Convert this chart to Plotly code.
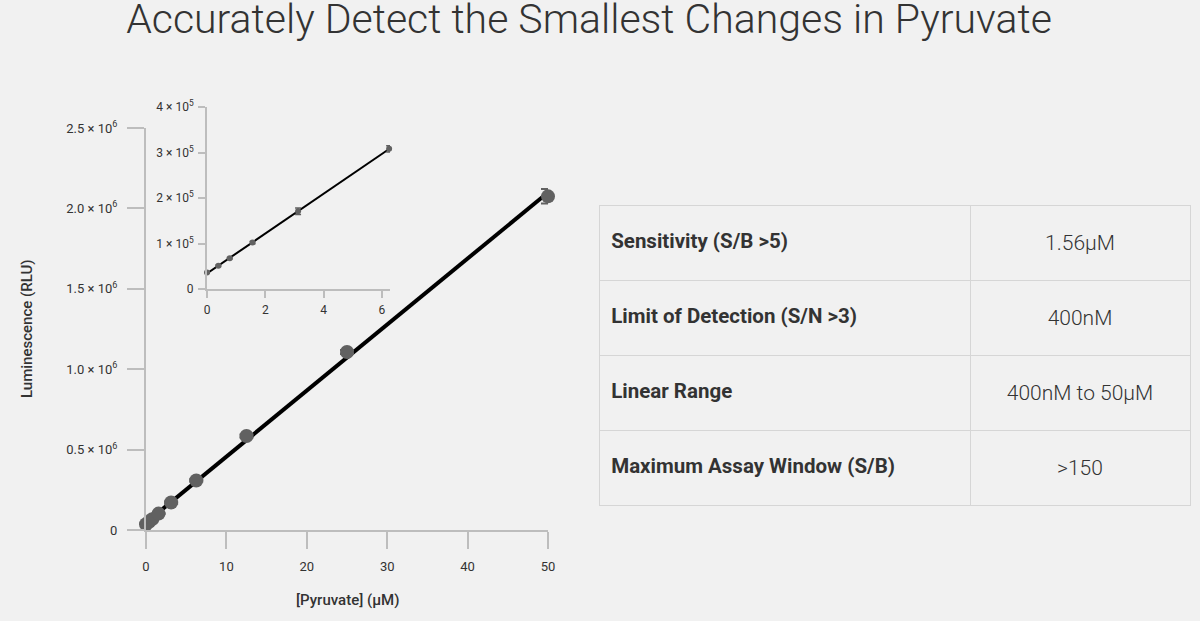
import numpy as np
import plotly.graph_objects as go

# ---- dados ----
conc_um = [0, 0.39, 0.78, 1.5625, 3.125, 6.25, 12.5, 25, 50]
lum_rlu = [36000, 51000, 67500, 102000, 171000, 308000, 585000, 1107000, 2075000]
lum_err = [1500, 1500, 1500, 2500, 7000, 7000, 9000, 12000, 45000]

inset_conc = [0, 0.39, 0.78, 1.5625, 3.125, 6.25]
inset_lum = [36000, 51000, 67500, 102000, 171000, 308000]
inset_err = [1500, 1500, 1500, 2500, 7000, 7000]

main_yticks = [0, 0.5e6, 1.0e6, 1.5e6, 2.0e6, 2.5e6]
main_ytext = ["0", "0.5 × 10<sup>6</sup>", "1.0 × 10<sup>6</sup>", "1.5 × 10<sup>6</sup>",
              "2.0 × 10<sup>6</sup>", "2.5 × 10<sup>6</sup>"]
main_xticks = [0, 10, 20, 30, 40, 50]

inset_yticks = [0, 1e5, 2e5, 3e5, 4e5]
inset_ytext = ["0", "1 × 10<sup>5</sup>", "2 × 10<sup>5</sup>", "3 × 10<sup>5</sup>", "4 × 10<sup>5</sup>"]
inset_xticks = [0, 2, 4, 6]

tabela_param = ["Sensitivity (S/B >5)", "Limit of Detection (S/N >3)",
                "Linear Range", "Maximum Assay Window (S/B)"]
tabela_valor = ["1.56µM", "400nM", "400nM to 50µM", ">150"]

BG = "#f1f1f1"
CINZA = "#616161"
EIXO = "#bdbdbd"
TXT = "#333333"
FONTE = "Roboto"

# ajuste linear (regressão)
a, b = np.polyfit(conc_um, lum_rlu, 1)
xf = [0, 50]
ai, bi = np.polyfit(inset_conc, inset_lum, 1)
xfi = [0, 6.25]

fig = go.Figure()

# -------- gráfico principal --------
fig.add_trace(go.Scatter(
    x=xf, y=[a * v + b for v in xf], mode="lines",
    line=dict(color="black", width=4), hoverinfo="skip", showlegend=False,
    xaxis="x", yaxis="y", cliponaxis=False,
))
fig.add_trace(go.Scatter(
    x=conc_um, y=lum_rlu, mode="markers",
    marker=dict(color=CINZA, size=14),
    error_y=dict(type="data", array=lum_err, color=CINZA, thickness=2, width=7),
    showlegend=False, xaxis="x", yaxis="y", cliponaxis=False,
))

# -------- inset --------
fig.add_trace(go.Scatter(
    x=xfi, y=[ai * v + bi for v in xfi], mode="lines",
    line=dict(color="black", width=2), hoverinfo="skip", showlegend=False,
    xaxis="x2", yaxis="y2", cliponaxis=False,
))
fig.add_trace(go.Scatter(
    x=inset_conc, y=inset_lum, mode="markers",
    marker=dict(color=CINZA, size=6),
    error_y=dict(type="data", array=inset_err, color=CINZA, thickness=1.5, width=3),
    showlegend=False, xaxis="x2", yaxis="y2", cliponaxis=False,
))

# -------- tabela (1a linha vai no header, mesmo estilo) --------
# linha "sub" vazia na frente pra descer o texto até o meio da célula
VAZIO = "<sub>\u00a0</sub><br>"
col_esq = [VAZIO + "\u2009<b>" + t + "</b>" for t in tabela_param]
col_dir = [VAZIO + t for t in tabela_valor]
estilo = dict(align=["left", "center"], height=75, fill_color=BG, line_color="#d6d6d6",
              font=dict(family=FONTE, size=[20.5, 21], color=TXT, weight=[400, 300]))
fig.add_trace(go.Table(
    domain=dict(x=[599 / 1200, 1190 / 1200], y=[1 - 510 / 621, 1 - 205 / 621]),
    columnwidth=[371, 220],
    header=dict(values=[col_esq[0], col_dir[0]], **estilo),
    cells=dict(values=[col_esq[1:], col_dir[1:]], **estilo),
))

eixo = dict(showgrid=False, zeroline=False, showline=True, linecolor=EIXO, linewidth=2,
            ticks="outside", tickcolor=EIXO, tickwidth=2, automargin=False,
            tickfont=dict(family=FONTE, size=13, color=TXT))

fig.update_layout(
    width=1200, height=621,
    margin=dict(l=0, r=0, t=0, b=0, pad=0),
    paper_bgcolor=BG, plot_bgcolor=BG,
    title=dict(text="Accurately Detect the Smallest Changes in Pyruvate",
               font=dict(family=FONTE, size=41, color=TXT, weight=300),
               x=589 / 1200, xanchor="center", y=1 - 19 / 621, yanchor="middle"),
    xaxis=dict(eixo, domain=[146 / 1200, 548 / 1200], range=[0, 50],
               tickvals=main_xticks, ticklen=17, ticklabelstandoff=6, anchor="y"),
    yaxis=dict(eixo, domain=[1 - 530 / 621, 1 - 128 / 621], range=[0, 2.5e6],
               tickvals=main_yticks, ticktext=main_ytext, ticklen=17,
               ticklabelstandoff=7, anchor="x"),
    xaxis2=dict(eixo, domain=[207 / 1200, 390 / 1200], range=[0, 6.28],
                tickvals=inset_xticks, ticklen=7, ticklabelstandoff=2, anchor="y2",
                tickfont=dict(family=FONTE, size=12, color=TXT)),
    yaxis2=dict(eixo, domain=[1 - 289 / 621, 1 - 107 / 621], range=[0, 4e5],
                tickvals=inset_yticks, ticktext=inset_ytext, ticklen=7,
                ticklabelstandoff=2, anchor="x2",
                tickfont=dict(family=FONTE, size=12, color=TXT)),
    annotations=[
        dict(text="Luminescence (RLU)", textangle=-90, x=27 / 1200, y=1 - 329 / 621,
             xref="paper", yref="paper", xanchor="center", yanchor="middle", showarrow=False,
             font=dict(family=FONTE, size=15, color=TXT, weight=500)),
        dict(text="[Pyruvate] (µM)", x=347 / 1200, y=1 - 600 / 621,
             xref="paper", yref="paper", xanchor="center", yanchor="middle", showarrow=False,
             font=dict(family=FONTE, size=15, color=TXT, weight=500)),
    ],
)

fig.write_html("out.html", config={"displayModeBar": False},
               post_script="document.body.style.margin='0';")
